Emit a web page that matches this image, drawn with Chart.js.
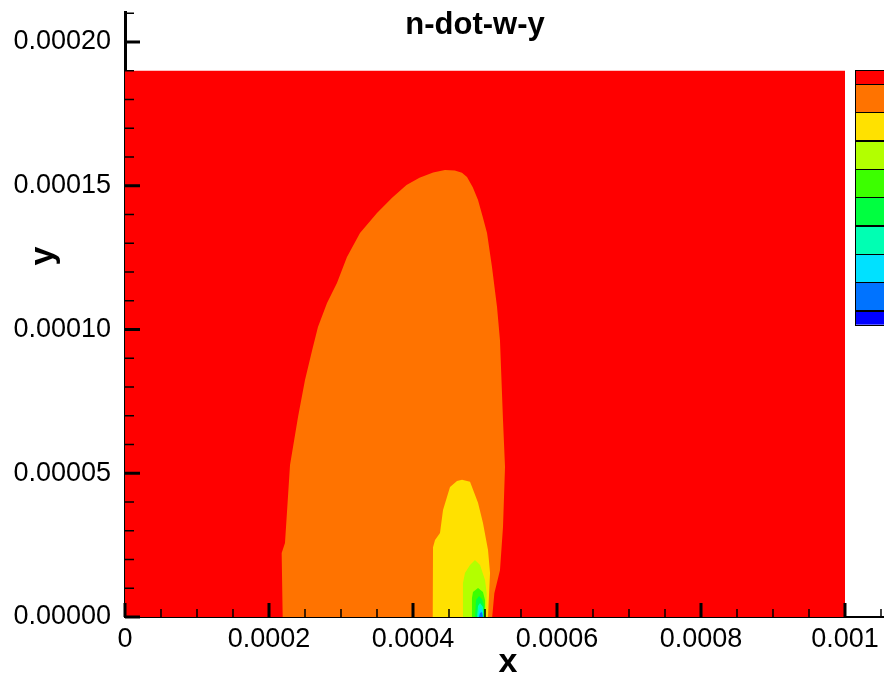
<!DOCTYPE html>
<html lang="en">
<head>
<meta charset="UTF-8">
<title>n-dot-w-y</title>
<script src="https://cdn.jsdelivr.net/npm/chart.js@4.4.1/dist/chart.umd.min.js"></script>
<style>
  html, body { margin: 0; padding: 0; background: #fff; }
  #wrap { width: 884px; height: 677px; }
</style>
</head>
<body>
<div id="wrap"><canvas id="chart"></canvas></div>
<script>
// contour level colours, outermost level first
const levelColors = ['#ff0000', '#ff7300', '#ffe100', '#b3ff00', '#3cff00',
                     '#00ff40', '#00ffb3', '#00e1ff', '#0073ff', '#0000ff'];

// outlines of each level region, [x, y]
const redRegion = [[0, 0], [0, 0.00019], [0.001, 0.00019], [0.001, 0]];
const orangeRegion = [
  [0.000219, 0], [0.0002176, 0.0000223], [0.0002222, 0.0000257], [0.0002292, 0.0000529],
  [0.0002403, 0.0000696], [0.00025, 0.0000824], [0.00026, 0.0000929], [0.000268, 0.0001009],
  [0.0002806, 0.0001092], [0.0002944, 0.0001162], [0.0003083, 0.0001252], [0.0003264, 0.0001336],
  [0.00035, 0.0001405], [0.000371, 0.0001458], [0.000391, 0.0001503], [0.000409, 0.0001528],
  [0.000428, 0.0001546], [0.0004444, 0.0001555], [0.000458, 0.0001553], [0.000468, 0.0001545],
  [0.000475, 0.000153], [0.000483, 0.0001495], [0.0004903, 0.000145], [0.0004965, 0.0001395],
  [0.0005028, 0.0001336], [0.0005097, 0.0001217], [0.0005167, 0.0001078], [0.0005208, 0.0000963],
  [0.000525, 0.0000685], [0.0005278, 0.0000522], [0.000525, 0.0000313], [0.0005208, 0.0000163],
  [0.000513, 0.0000083], [0.00051, 0]
];
const yellowRegion = [
  [0.0004274, 0], [0.0004278, 0.0000243], [0.0004306, 0.0000268], [0.0004375, 0.0000292],
  [0.0004417, 0.0000372], [0.0004514, 0.0000452], [0.0004611, 0.0000473], [0.0004681, 0.0000477],
  [0.0004792, 0.000047], [0.0004903, 0.0000397], [0.0004972, 0.0000327], [0.0005042, 0.0000233],
  [0.000507, 0.0000153], [0.0005056, 0.0000077], [0.0005042, 0]
];
const limeRegion = [
  [0.0004694, 0], [0.0004694, 0.0000118], [0.0004722, 0.0000153], [0.0004792, 0.0000181],
  [0.0004861, 0.0000198], [0.0004931, 0.0000181], [0.0005, 0.0000129], [0.0005024, 0.0000083],
  [0.0005014, 0]
];
const greenRegion = [
  [0.0004806, 0], [0.0004819, 0.0000066], [0.0004833, 0.0000087], [0.0004903, 0.0000101],
  [0.0004972, 0.0000087], [0.0005, 0.0000059], [0.0005, 0]
];
const green2Region = [
  [0.0004861, 0], [0.0004875, 0.0000059], [0.0004917, 0.0000073], [0.0004958, 0.0000063],
  [0.0004986, 0.0000042], [0.0004986, 0]
];
const tealRegion = [
  [0.0004889, 0], [0.0004903, 0.0000038], [0.0004931, 0.0000049], [0.0004972, 0.0000035], [0.0004972, 0]
];
const cyanRegion = [
  [0.0004903, 0], [0.0004917, 0.0000024], [0.0004944, 0.0000031], [0.0004972, 0.0000017], [0.0004972, 0]
];
const blueRegion = [
  [0.0004917, 0], [0.0004931, 0.0000014], [0.0004958, 0.0000017], [0.0004972, 0]
];
const regions = [redRegion, orangeRegion, yellowRegion, limeRegion, greenRegion,
                 green2Region, tealRegion, cyanRegion, blueRegion];

const xTicks = [0, 0.0002, 0.0004, 0.0006, 0.0008, 0.001];
const xTickLabels = ['0', '0.0002', '0.0004', '0.0006', '0.0008', '0.001'];
const yTicks = [0, 0.00005, 0.0001, 0.00015, 0.0002];
const yTickLabels = ['0.00000', '0.00005', '0.00010', '0.00015', '0.00020'];

const fontFamily = '"Liberation Sans", Arial, Helvetica, sans-serif';

// inward tick marks, major and minor, drawn over the contour fill
const tickMarks = {
  id: 'tickMarks',
  afterDatasetsDraw(chart) {
    const { ctx, chartArea, scales: { x, y } } = chart;
    ctx.save();
    ctx.strokeStyle = '#000';
    for (let i = 0; i <= 21; i++) {
      const major = i % 4 === 0;
      const px = x.getPixelForValue(i * 0.00005);
      ctx.lineWidth = major ? 3 : 1.5;
      ctx.beginPath();
      ctx.moveTo(px, chartArea.bottom);
      ctx.lineTo(px, chartArea.bottom - (major ? 14 : 8));
      ctx.stroke();
    }
    for (let i = 0; i <= 21; i++) {
      const major = i % 5 === 0;
      const py = y.getPixelForValue(i * 0.00001);
      ctx.lineWidth = major ? 3 : 1.5;
      ctx.beginPath();
      ctx.moveTo(chartArea.left, py);
      ctx.lineTo(chartArea.left + (major ? 15 : 9), py);
      ctx.stroke();
    }
    ctx.restore();
  }
};

// title, axis names and the colour bar
const decorations = {
  id: 'decorations',
  afterDraw(chart) {
    const { ctx } = chart;
    ctx.save();
    ctx.fillStyle = '#000';
    ctx.textAlign = 'center';
    ctx.textBaseline = 'alphabetic';
    ctx.font = 'bold 31px ' + fontFamily;
    ctx.fillText('n-dot-w-y', 475, 34);
    ctx.font = 'bold 34px ' + fontFamily;
    ctx.fillText('x', 508, 672);
    ctx.save();
    ctx.translate(53, 256);
    ctx.rotate(-Math.PI / 2);
    ctx.fillText('y', 0, 0);
    ctx.restore();

    const top = 70, half = 14, full = 28.33, left = 855;
    let yy = top;
    levelColors.forEach((c, i) => {
      const h = (i === 0 || i === levelColors.length - 1) ? half : full;
      ctx.fillStyle = c;
      ctx.fillRect(left, yy, 40, h);
      yy += h;
    });
    ctx.strokeStyle = '#000';
    ctx.lineWidth = 1;
    yy = top;
    levelColors.forEach((c, i) => {
      const h = (i === 0 || i === levelColors.length - 1) ? half : full;
      ctx.strokeRect(left + 0.5, Math.round(yy) + 0.5, 40, Math.round(h));
      yy += h;
    });
    ctx.restore();
  }
};

new Chart(document.getElementById('chart'), {
  type: 'scatter',
  data: {
    datasets: regions.map((pts, i) => ({
      data: pts.map(p => ({ x: p[0], y: p[1] })),
      showLine: true,
      fill: 'shape',
      backgroundColor: levelColors[i],
      borderWidth: 0,
      pointRadius: 0,
      tension: 0,
      order: regions.length - i
    }))
  },
  options: {
    responsive: true,
    maintainAspectRatio: false,
    animation: false,
    layout: { padding: { top: 12, right: 0, bottom: 0, left: 0 } },
    plugins: {
      legend: { display: false },
      tooltip: { enabled: false },
      title: { display: false }
    },
    scales: {
      x: {
        type: 'linear',
        min: 0,
        max: 0.00105417,
        afterBuildTicks: s => { s.ticks = xTicks.map(v => ({ value: v })); },
        afterFit: s => { s.height = 60; s.paddingLeft = 0; s.paddingRight = 0; },
        grid: { display: false, drawTicks: false },
        border: { display: true, color: '#000', width: 2 },
        ticks: {
          padding: 6,
          color: '#000',
          maxRotation: 0,
          font: { family: fontFamily, size: 27 },
          callback: v => xTickLabels[xTicks.indexOf(v)]
        }
      },
      y: {
        type: 'linear',
        min: 0,
        max: 0.00021043,
        afterBuildTicks: s => { s.ticks = yTicks.map(v => ({ value: v })); },
        afterFit: s => { s.width = 125; s.paddingTop = 0; s.paddingBottom = 0; },
        grid: { display: false, drawTicks: false },
        border: { display: true, color: '#000', width: 3 },
        ticks: {
          padding: 14,
          color: '#000',
          font: { family: fontFamily, size: 27 },
          callback: v => yTickLabels[yTicks.indexOf(v)]
        }
      }
    }
  },
  plugins: [tickMarks, decorations]
});
</script>
</body>
</html>
